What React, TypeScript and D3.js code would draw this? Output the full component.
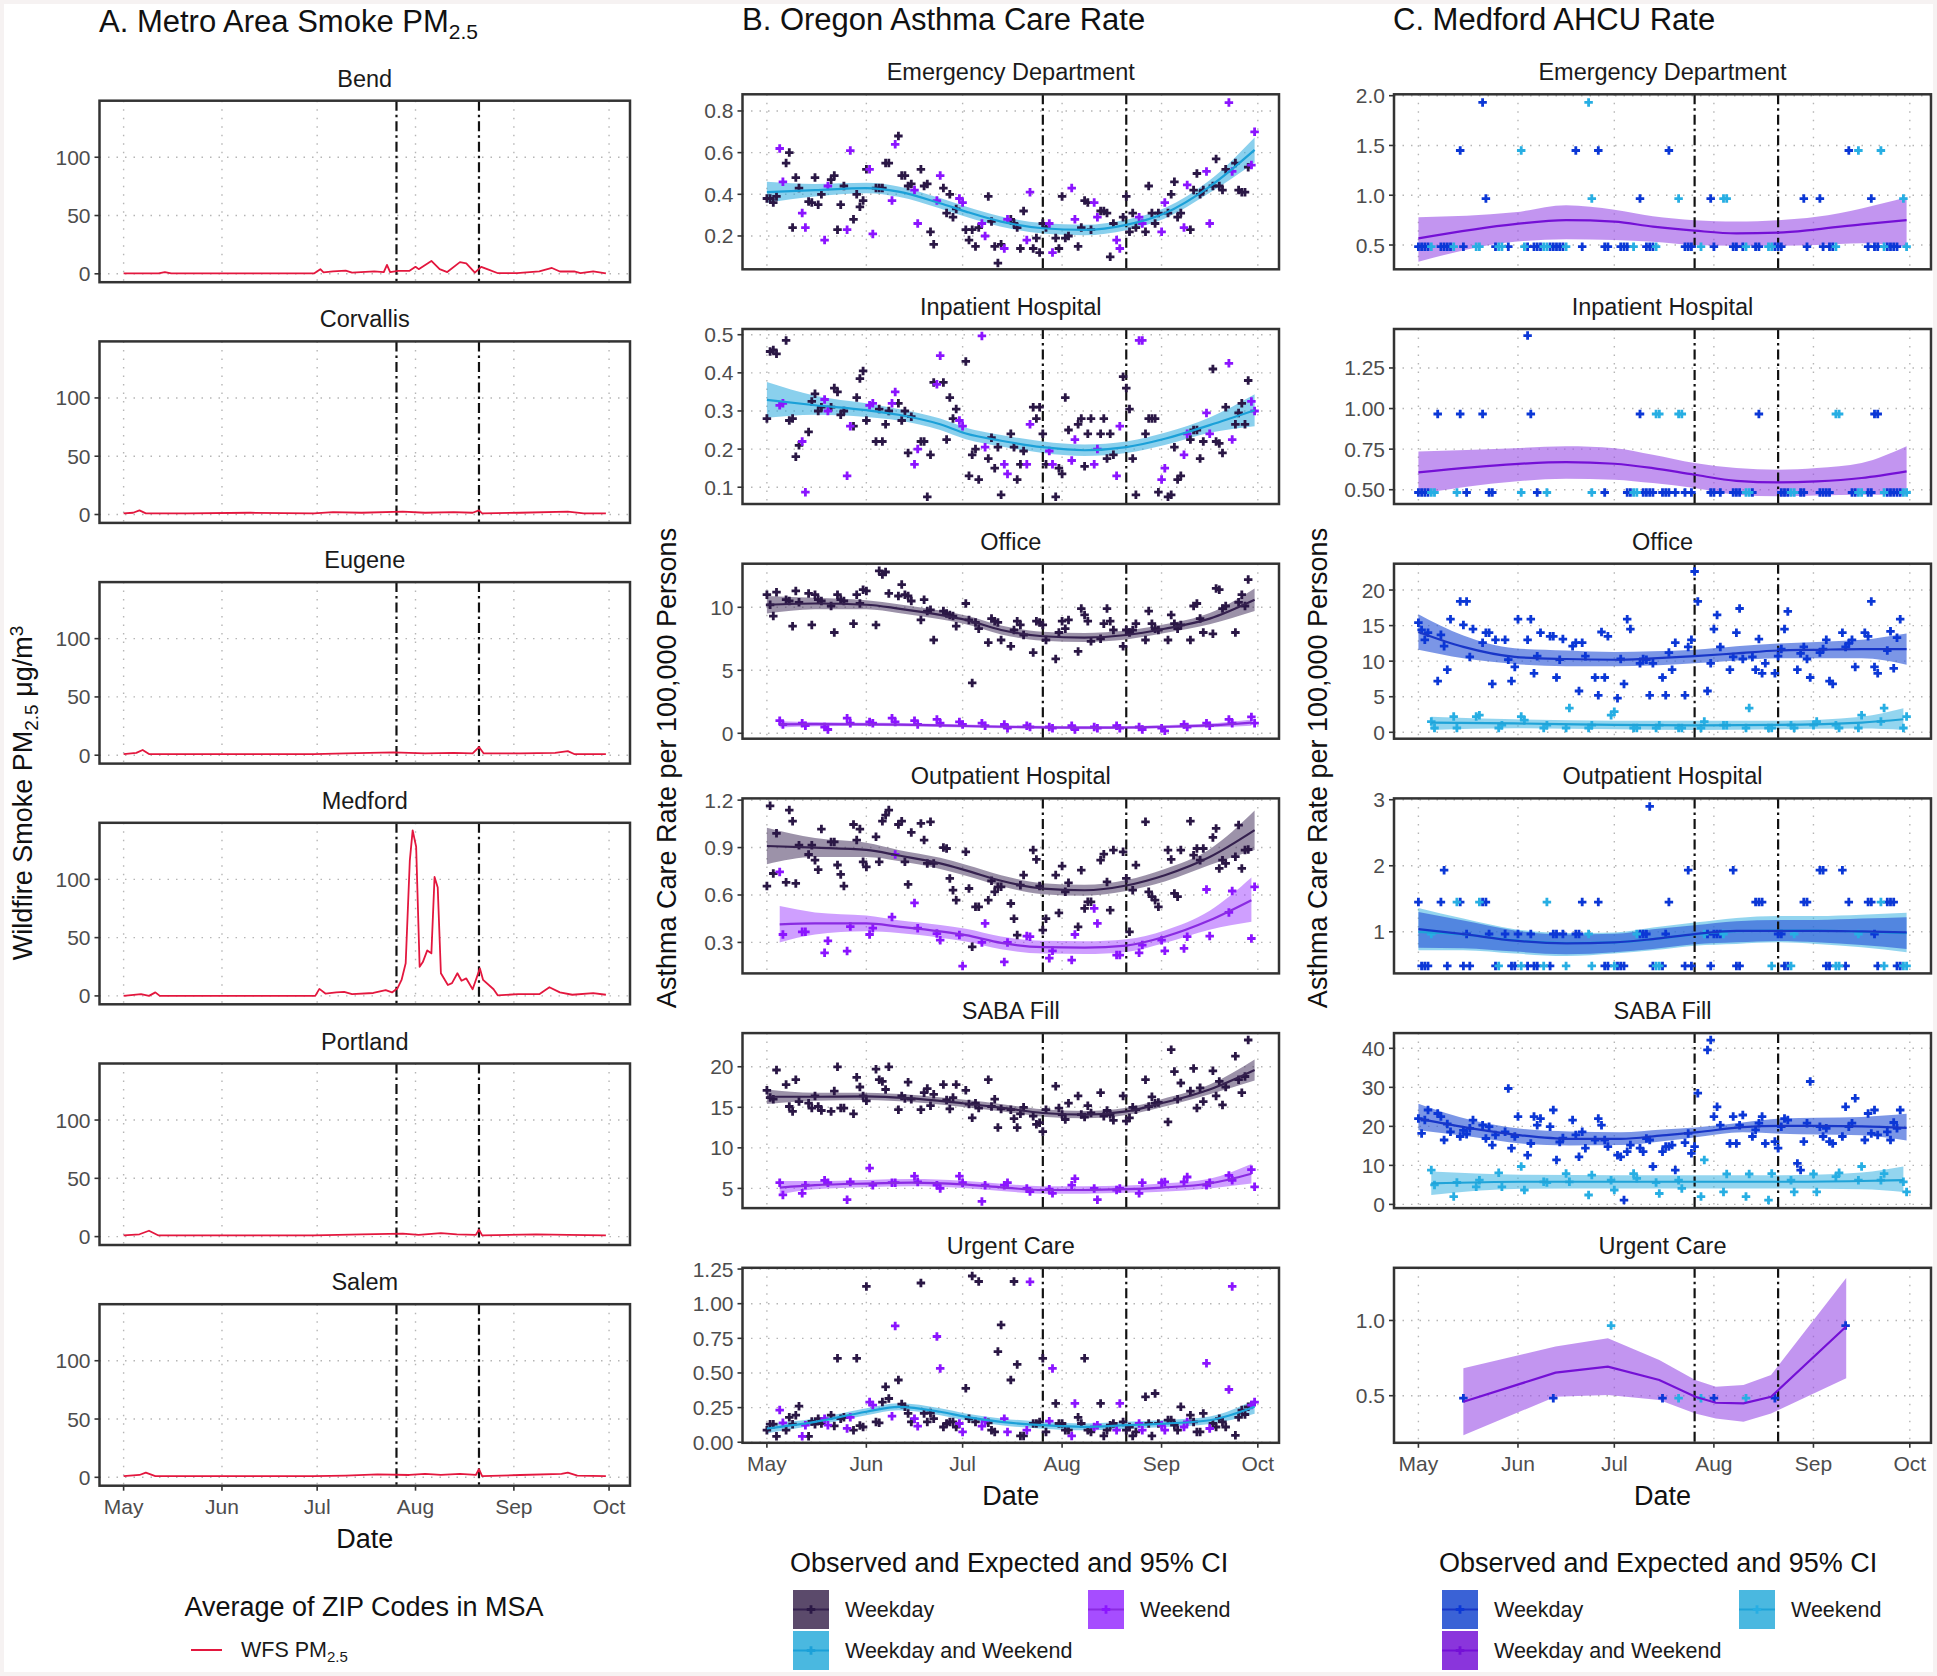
import React from "react";
import * as d3 from "d3";

// ---------------- DATA ----------------
const YEAR_START = Date.UTC(2018, 4, 1); // day 0 = May 1
const N_DAYS = 153;
const eventDays = [86, 112]; // Jul 26, Aug 21

// Panel A: wildfire smoke PM2.5, vertices [day, value]
const bendPM = [[0,0.3],[11,0.3],[13,1.5],[15,0.3],[60,0.3],[62,4],[63,1.2],[66,2],[70,2.8],[72,1],[79,2],[82,1.5],[83,7.7],[84,1.5],[86.5,2.5],[90,2.5],[92,6],[93,4],[97,11],[99.6,4],[102,1.5],[106,10],[108,9],[110.7,1],[112.7,6],[114.6,4],[118,0.5],[124,0.5],[131,2],[135,5],[137.5,2],[142,2],[144,0.5],[148,2],[152,0.3]];
const corvallisPM = [[0,1],[3,1.5],[5,3.5],[7,1],[20,1],[40,1.5],[60,1],[66,2],[75,1.5],[88,2.5],[95,1.5],[104,2],[110,1.5],[112,3.5],[113,1],[125,1.5],[140,2.5],[145,1],[152,1]];
const eugenePM = [[0,1],[4,2],[6,4.5],[8,1],[30,1],[60,1],[70,1.5],[85,2.5],[95,1.5],[104,2],[110,1.5],[112,7],[113.5,1.5],[125,1.5],[136,2],[140,3.5],[142,1],[152,1]];
const medfordPM = [[0,0],[5.5,1.5],[8,0],[10,3],[11.4,0],[60.4,0],[61.7,6],[63.6,2],[67,3],[69.5,3.5],[72,1.5],[78.7,2.5],[82.6,5],[84.6,3],[86.3,6.5],[87.6,13.7],[88.9,28],[90.2,116],[91.1,142],[92.2,128],[93.3,25],[94.3,29],[95.7,39],[97,36.5],[98,102],[99,93],[100,19.4],[102.2,9.4],[103.5,11],[105.2,19.4],[106.5,13],[108,15],[110,5.7],[112.3,23.6],[113.3,13.7],[116.6,5.7],[117.9,0.5],[124.4,1.5],[131,1.5],[134.2,7.4],[137.5,3],[141.4,1],[148,2.3],[152,1]];
const portlandPM = [[0,1],[5,2],[8,5],[11,1],[30,1],[60,1],[75,2],[88,2.5],[93,1.5],[100,3],[105,2],[111,1.5],[112,6],[113,1],[130,2],[140,1.5],[152,1]];
const salemPM = [[0,1],[5,2],[7,4],[10,1],[60,1],[70,1.5],[80,2.5],[90,2],[95,3],[100,2],[106,3],[111,2],[112,7],[113,1],[125,2],[138,3],[140,4],[143,1.5],[152,1]];
const cityNames = ["Bend", "Corvallis", "Eugene", "Medford", "Portland", "Salem"];
const citySeries = [bendPM, corvallisPM, eugenePM, medfordPM, portlandPM, salemPM];

// Panel B: Oregon daily rates (weekday values in order, weekend values in order)
const bEdWeekday = [0.38,0.38,0.36,0.39,0.55,0.60,0.24,0.48,0.43,0.365,0.36,0.48,0.35,0.40,0.47,0.49,0.23,0.35,0.44,0.28,0.40,0.34,0.37,0.52,0.43,0.43,0.43,0.55,0.55,0.68,0.49,0.49,0.44,0.45,0.52,0.44,0.45,0.22,0.16,0.43,0.31,0.40,0.29,0.33,0.23,0.18,0.23,0.15,0.24,0.39,0.27,0.15,0.07,0.16,0.28,0.26,0.24,0.14,0.32,0.14,0.19,0.12,0.26,0.24,0.19,0.14,0.39,0.19,0.20,0.15,0.24,0.37,0.36,0.23,0.32,0.32,0.31,0.10,0.26,0.29,0.39,0.22,0.31,0.24,0.22,0.44,0.31,0.26,0.31,0.31,0.40,0.46,0.29,0.31,0.23,0.42,0.50,0.40,0.42,0.44,0.57,0.44,0.42,0.52,0.55,0.42,0.41,0.41,0.53];
const bEdWeekend = [0.62,0.46,0.31,0.24,0.18,0.44,0.23,0.61,0.52,0.21,0.37,0.64,0.42,0.26,0.37,0.49,0.38,0.36,0.26,0.20,0.14,0.28,0.18,0.41,0.26,0.12,0.43,0.28,0.36,0.29,0.18,0.14,0.29,0.26,0.22,0.36,0.24,0.445,0.51,0.26,0.84,0.51,0.54,0.70];
const bInpWeekday = [0.28,0.456,0.46,0.45,0.485,0.275,0.28,0.18,0.21,0.245,0.325,0.345,0.30,0.31,0.31,0.36,0.35,0.29,0.30,0.26,0.335,0.385,0.405,0.275,0.22,0.305,0.22,0.265,0.30,0.32,0.275,0.30,0.19,0.285,0.22,0.22,0.075,0.185,0.375,0.375,0.225,0.335,0.28,0.305,0.43,0.13,0.185,0.20,0.12,0.175,0.23,0.15,0.205,0.08,0.24,0.205,0.12,0.16,0.195,0.31,0.28,0.31,0.24,0.16,0.075,0.15,0.135,0.335,0.25,0.265,0.28,0.155,0.24,0.28,0.24,0.28,0.175,0.24,0.185,0.39,0.36,0.305,0.175,0.08,0.24,0.28,0.28,0.28,0.087,0.075,0.08,0.205,0.12,0.13,0.225,0.25,0.25,0.175,0.22,0.41,0.22,0.215,0.19,0.31,0.265,0.295,0.32,0.265,0.38];
const bInpWeekend = [0.315,0.32,0.22,0.087,0.33,0.30,0.13,0.26,0.315,0.32,0.32,0.35,0.16,0.20,0.37,0.445,0.275,0.26,0.497,0.205,0.16,0.135,0.16,0.265,0.195,0.16,0.17,0.225,0.16,0.20,0.13,0.26,0.485,0.485,0.12,0.15,0.185,0.24,0.295,0.24,0.425,0.225,0.325,0.30];
const bOffWeekday = [11.0,10.2,9.3,11.2,10.6,10.5,8.5,11.3,10.4,11.1,8.6,11.0,10.6,10.5,10.1,8.0,11.0,10.6,10.5,8.7,11.0,10.3,11.4,11.3,8.6,12.9,12.6,12.8,11.1,10.9,11.8,11.0,10.9,10.5,9.0,10.6,9.7,9.8,7.4,9.7,9.5,9.4,9.3,8.5,10.3,9.0,4.0,8.8,8.3,7.2,9.1,8.9,8.8,7.4,6.9,8.2,8.9,8.6,7.8,6.4,8.9,8.8,8.6,7.4,5.9,8.0,8.9,8.3,9.0,6.5,9.9,9.4,8.9,7.3,7.5,8.7,9.9,8.9,8.2,6.9,8.2,8.0,8.2,8.7,7.4,9.7,8.7,8.3,8.2,7.4,9.4,8.7,8.3,8.6,7.4,10.1,10.3,9.1,8.0,7.9,11.5,11.4,9.9,10.1,8.0,10.4,11.0,10.1,12.2];
const bOffWeekend = [1.0,0.7,0.8,0.6,0.5,0.3,1.2,0.8,0.9,0.8,1.2,0.9,1.0,0.7,1.1,0.8,0.9,0.7,0.8,0.6,0.7,0.4,0.6,0.5,0.5,0.4,0.6,0.3,0.5,0.4,0.6,0.4,0.5,0.3,0.4,0.2,0.7,0.5,0.8,0.6,1.1,0.8,1.3,0.8];
const bOutWeekday = [0.656,1.164,0.736,0.99,0.68,1.137,1.067,0.673,0.915,0.856,0.915,0.82,0.76,1.017,0.936,0.936,0.79,0.73,0.656,1.046,0.947,1.017,0.81,0.778,0.968,0.81,1.067,1.105,1.137,1.046,1.067,0.81,0.667,0.996,1.053,0.947,0.80,1.063,0.80,0.90,0.894,0.705,0.63,0.567,0.873,0.641,0.272,0.525,0.525,0.567,0.69,0.62,0.652,0.652,0.546,0.45,0.346,0.662,0.726,0.884,0.825,0.656,0.378,0.45,0.726,0.487,0.783,0.62,0.677,0.399,0.757,0.515,0.557,0.557,0.82,0.858,0.683,0.504,0.884,0.873,0.705,0.367,0.63,0.789,1.063,0.62,0.589,0.567,0.525,0.884,0.825,0.61,0.589,0.884,1.067,0.852,0.894,0.82,0.894,0.964,1.021,0.768,0.82,0.80,0.842,1.042,0.768,0.884,0.888];
const bOutWeekend = [0.746,0.35,0.367,0.367,0.234,0.31,0.245,0.40,0.35,0.39,0.46,0.856,0.55,0.39,0.356,0.314,0.346,0.15,0.30,0.42,0.177,0.30,0.34,0.336,0.20,0.247,0.188,0.35,0.515,0.42,0.22,0.22,0.234,0.283,0.314,0.247,0.262,0.336,0.635,0.34,0.49,0.625,0.325,0.652];
const bSabaWeekday = [17.1,16.2,16.0,19.6,17.8,15.1,14.5,18.4,15.7,15.5,14.9,16.4,15.1,14.6,14.5,17.0,20.0,14.9,14.9,14.2,18.7,17.5,16.4,15.8,19.7,18.4,18.2,17.2,20.0,14.7,16.4,16.1,18.1,16.0,14.7,16.8,17.3,15.2,16.6,17.8,15.9,14.8,16.2,17.8,17.1,15.4,13.7,15.5,14.9,18.4,15.1,16.0,12.5,14.8,14.7,13.6,12.5,14.2,15.0,13.9,12.9,13.1,12.0,14.7,17.6,14.9,14.1,13.5,15.5,16.4,14.1,13.8,15.2,14.3,16.8,13.9,14.6,14.1,13.4,16.4,13.3,13.7,15.0,14.7,18.4,15.1,16.3,15.5,15.6,13.2,22.1,19.4,16.0,18.0,17.0,19.8,14.9,17.4,15.7,19.5,16.4,18.2,15.3,17.5,21.3,18.4,16.8,18.8,23.3];
const bSabaWeekend = [5.7,4.2,4.4,5.4,6.0,5.7,3.6,5.8,7.5,5.4,5.7,5.7,6.5,5.8,5.4,5.0,6.5,5.7,3.4,5.4,5.4,5.7,5.0,4.6,4.9,4.4,5.4,6.2,5.0,3.6,4.8,5.0,4.4,5.7,5.7,5.8,5.8,6.4,5.4,5.7,6.6,6.0,7.3,5.2];
const bUrgWeekday = [0.087,0.13,0.13,0.043,0.087,0.18,0.13,0.195,0.26,0.043,0.15,0.13,0.17,0.135,0.195,0.118,0.606,0.17,0.18,0.087,0.606,0.12,0.11,1.125,0.147,0.14,0.29,0.40,0.316,0.449,0.275,0.256,0.208,0.147,1.149,0.208,0.147,0.212,0.17,0.11,0.135,0.147,0.147,0.11,0.389,0.17,1.20,0.147,1.16,0.14,0.087,0.075,0.654,0.847,0.449,1.16,0.562,0.046,0.046,0.135,0.135,0.147,0.606,0.075,0.28,0.135,0.135,0.087,0.087,0.18,0.135,0.606,0.087,0.075,0.28,0.046,0.087,0.123,0.135,0.147,0.087,0.11,0.046,0.075,0.328,0.135,0.046,0.352,0.135,0.16,0.16,0.123,0.087,0.256,0.195,0.147,0.075,0.075,0.208,0.135,0.11,0.17,0.147,0.11,0.05,0.18,0.232,0.20,0.256];
const bUrgWeekend = [0.232,0.14,0.043,0.123,0.17,0.123,0.10,0.18,0.29,0.268,0.188,0.84,0.17,0.116,0.763,0.533,0.135,0.075,0.116,0.154,0.17,0.075,0.087,1.158,0.152,0.533,0.046,0.28,0.11,0.123,0.087,0.28,0.135,0.087,0.123,0.087,0.11,0.147,0.57,0.099,0.381,1.125,0.268,0.29];

// Panel B smoothers (expected and 95% CI)
const bEdAllFit = { days:[0,15,31,41,54,62,73,86,99,112,124,138,152], fit:[0.41,0.42,0.43,0.413,0.357,0.317,0.269,0.237,0.229,0.253,0.309,0.437,0.613], lo:[0.36,0.39,0.405,0.388,0.332,0.292,0.244,0.212,0.204,0.228,0.284,0.407,0.553], hi:[0.46,0.45,0.455,0.438,0.382,0.342,0.294,0.262,0.254,0.278,0.334,0.467,0.673] };
const bInpAllFit = { days:[0,15,31,41,54,62,73,86,99,112,124,138,152], fit:[0.329,0.315,0.302,0.29,0.265,0.241,0.222,0.205,0.197,0.205,0.227,0.263,0.302], lo:[0.282,0.29,0.284,0.275,0.25,0.226,0.207,0.19,0.182,0.19,0.211,0.243,0.26], hi:[0.376,0.34,0.32,0.305,0.28,0.256,0.237,0.22,0.212,0.22,0.243,0.283,0.344] };
const bOffWdFit = { days:[0,15,31,41,54,62,73,86,99,112,124,138,152], fit:[10.2,10.3,10.2,9.9,9.4,9.0,8.2,7.7,7.6,7.8,8.3,9.1,10.6], lo:[9.5,9.85,9.85,9.55,9.05,8.65,7.85,7.35,7.25,7.45,7.95,8.65,9.7], hi:[10.9,10.75,10.55,10.25,9.75,9.35,8.55,8.05,7.95,8.15,8.65,9.55,11.5] };
const bOffWeFit = { days:[4,15,31,41,54,62,73,86,99,112,124,138,151], fit:[0.70,0.72,0.70,0.68,0.62,0.58,0.52,0.47,0.45,0.46,0.52,0.62,0.85], lo:[0.45,0.55,0.57,0.55,0.50,0.46,0.40,0.35,0.33,0.34,0.40,0.47,0.6], hi:[0.95,0.89,0.83,0.81,0.74,0.70,0.64,0.59,0.57,0.58,0.64,0.77,1.1] };
const bOutWdFit = { days:[0,15,31,41,54,62,73,86,99,112,124,138,152], fit:[0.91,0.90,0.885,0.85,0.80,0.756,0.69,0.64,0.63,0.66,0.725,0.84,1.01], lo:[0.795,0.84,0.84,0.815,0.765,0.721,0.655,0.605,0.595,0.625,0.685,0.79,0.885], hi:[1.025,0.96,0.93,0.885,0.835,0.791,0.725,0.675,0.665,0.695,0.765,0.89,1.135] };
const bOutWeFit = { days:[4,15,31,41,54,62,73,86,99,112,124,138,151], fit:[0.414,0.42,0.42,0.40,0.37,0.346,0.297,0.27,0.267,0.28,0.336,0.44,0.567], lo:[0.30,0.35,0.37,0.36,0.33,0.306,0.257,0.23,0.227,0.24,0.296,0.38,0.43], hi:[0.53,0.49,0.47,0.44,0.41,0.386,0.337,0.31,0.307,0.32,0.376,0.50,0.71] };
const bSabaWdFit = { days:[0,15,31,45,61,74,86,99,112,123,138,152], fit:[16.3,16.3,16.35,16.1,15.5,14.9,14.3,14.1,14.5,15.5,17.2,19.6], lo:[15.4,15.8,15.9,15.65,15.05,14.45,13.85,13.65,14.05,15.0,16.6,18.3], hi:[17.2,16.8,16.8,16.55,15.95,15.35,14.75,14.55,14.95,16.0,17.8,20.9] };
const bSabaWeFit = { days:[4,15,31,45,61,74,86,99,112,123,138,151], fit:[5.1,5.4,5.6,5.7,5.5,5.1,4.8,4.8,4.9,5.1,5.6,6.8], lo:[4.3,4.9,5.15,5.25,5.05,4.65,4.35,4.35,4.45,4.6,5.0,5.6], hi:[5.9,5.9,6.05,6.15,5.95,5.55,5.25,5.25,5.35,5.6,6.2,8.0] };
const bUrgAllFit = { days:[0,15,31,41,54,62,73,86,99,112,124,138,152], fit:[0.099,0.147,0.22,0.256,0.22,0.183,0.147,0.123,0.111,0.123,0.135,0.159,0.256], lo:[0.065,0.122,0.195,0.231,0.195,0.158,0.122,0.098,0.086,0.098,0.11,0.132,0.206], hi:[0.133,0.172,0.245,0.281,0.245,0.208,0.172,0.148,0.136,0.148,0.16,0.186,0.306] };

// Panel C: Medford daily visit counts (rate = count x rate per visit)
const medfordRatePerVisit = 0.4831;
const cEdCounts = [1,1,1,1,1,0,0,1,1,1, 1,1,0,3,1,0,0,0,1,1, 4,2,0,0,1,1,1,0,1,0, 0,0,3,1,1,0,1,1,1,1, 1,1,1,1,1,1,1,0,0,3, 0,1,0,4,2,0,3,0,1,1, 0,0,0,1,1,1,0,1,0,2, 0,1,1,1,1,0,0,0,3,0, 0,2,0,1,1,1,0,0,1,0, 0,2,1,0,0,2,2,0,1,1, 0,1,1,0,0,1,1,0,0,1, 1,1,1,1,0,0,0,0,0,0, 2,1,0,0,0,2,1,0,1,1, 1,0,0,0,3,0,0,3,0,0, 1,2,1,1,3,1,1,1,1,1, 0,2,1];
const cInpCounts = [1,1,1,1,1,1,2,0,0,0, 0,0,1,2,0,1,0,0,0,0, 2,0,1,1,0,0,0,0,0,0, 0,0,1,0,3,2,0,1,0,0, 1,0,0,0,0,0,0,0,0,0, 0,0,0,0,1,0,0,0,1,0, 0,0,0,0,0,1,1,1,1,2, 1,1,1,1,2,2,1,1,1,0, 1,2,2,1,0,1,0,0,0,0, 0,1,1,0,1,0,0,0,1,1, 1,0,1,1,1,0,2,0,0,0, 0,0,0,1,1,1,1,1,0,1, 1,0,0,0,0,1,1,1,1,0, 2,2,0,0,0,1,1,1,1,0, 1,1,2,2,0,1,1,1,1,1, 1,1,1];
const cOutCounts = [3,1,1,1,2,0,0,3,4,1, 0,0,3,3,1,2,1,0,0,3, 3,3,2,0,1,1,0,2,0,1, 1,2,1,0,1,2,1,1,0,1, 3,1,2,2,0,2,1,0,0,2, 2,3,0,2,1,0,3,0,1,1, 0,1,1,1,1,0,0,0,2,2, 2,2,6,1,1,1,1,2,3,0, 0,0,0,1,4,1,0,0,0,2, 2,1,2,2,2,2,0,0,4,1, 1,0,0,0,0,3,3,3,0,0, 1,0,2,2,1,1,1,2,0,0, 3,3,0,0,0,4,4,1,1,0, 1,1,4,1,3,0,0,2,0,0, 3,3,2,1,3,1,3,3,3,1, 1,1,1];
const cUrgDays = [14, 42, 60, 76, 81, 88, 92, 102, 111, 133];
const cUrgCounts = [1, 1, 2, 1, 1, 1, 1, 1, 1, 2];
const cOffWeekday = [15.4,14.4,13.0,14.0,7.2,13.7,12.1,8.8,15.9,18.4,15.1,18.4,10.6,14.5,12.6,14.0,14.0,6.8,13.0,13.0,10.2,7.2,9.2,15.9,13.0,15.9,8.3,10.7,14.0,13.5,13.5,7.7,10.2,13.1,12.1,12.6,5.8,12.6,10.7,7.7,5.2,14.1,7.7,13.5,4.8,10.3,6.8,15.9,14.5,9.7,10.3,10.2,5.2,9.7,7.7,5.2,11.2,8.8,12.6,5.2,12.0,13.0,22.6,18.4,5.8,9.7,14.5,16.5,12.0,8.8,10.6,14.0,17.4,10.3,10.6,8.8,13.1,8.3,9.7,8.3,10.7,11.7,14.5,17.0,8.8,11.1,12.0,10.3,7.7,11.2,11.7,13.0,7.2,6.8,14.0,12.0,12.5,13.0,9.2,14.0,13.5,18.4,9.2,8.3,11.5,14.2,9.0,13.3,15.9];
const cOffWeekend = [1.5,0.6,2.2,0.6,2.2,2.4,0.6,1.0,2.2,1.7,0.6,1.0,0.6,3.4,0.6,1.0,2.4,2.9,0.6,0.6,0.6,1.0,0.6,0.6,0.6,1.5,1.0,1.0,0.6,3.4,0.6,0.6,1.0,0.6,1.0,1.5,1.0,0.6,0.6,2.4,1.5,3.4,0.6,2.2];
const cSabaWeekday = [22.0,18.2,21.6,24.2,23.3,22.5,16.5,20.6,18.6,17.4,19.0,18.0,19.5,21.6,20.3,16.9,19.9,15.2,17.8,18.6,29.7,14.4,17.4,22.5,12.6,15.6,22.5,20.3,22.0,19.9,24.2,11.4,16.0,17.0,21.6,17.8,12.2,18.6,14.4,16.5,22.0,20.3,16.5,14.8,12.6,12.2,1.1,13.5,15.2,14.4,13.5,16.9,16.5,9.7,13.5,14.8,14.8,15.2,8.8,15.8,18.2,13.1,14.8,28.5,39.6,42.1,22.5,25.0,20.3,15.6,22.5,15.6,20.3,22.9,17.4,19.1,20.8,22.5,15.6,16.1,14.4,19.9,22.0,21.6,10.5,8.8,16.1,20.8,31.5,19.9,17.4,19.5,16.1,15.6,17.4,25.0,19.9,20.8,27.2,16.5,23.3,18.2,24.2,17.8,18.6,16.5,21.0,19.5,24.2];
const cSabaWeekend = [8.8,5.0,2.0,5.6,4.5,6.2,8.1,4.5,9.7,3.7,5.8,5.6,7.9,5.8,2.4,7.5,6.2,3.7,7.9,6.7,5.6,2.8,6.2,4.1,2.0,11.4,3.2,7.8,2.0,7.8,1.1,7.9,6.2,3.2,7.8,3.2,7.1,8.1,6.2,9.7,6.2,7.9,5.8,3.2];

// Panel C smoothers
const cEdAllFit = { days:[0,30,46,61,73,86,99,112,124,138,152], fit:[0.567,0.71,0.75,0.735,0.684,0.644,0.617,0.624,0.658,0.708,0.75], lo:[0.333,0.533,0.557,0.55,0.533,0.50,0.493,0.493,0.50,0.517,0.483], hi:[0.778,0.828,0.90,0.855,0.79,0.75,0.735,0.75,0.784,0.868,0.98] };
const cInpAllFit = { days:[0,30,46,61,73,86,99,112,124,138,152], fit:[0.607,0.658,0.67,0.66,0.633,0.592,0.555,0.545,0.551,0.572,0.613], lo:[0.475,0.551,0.568,0.562,0.541,0.51,0.469,0.459,0.465,0.469,0.469], hi:[0.736,0.756,0.767,0.756,0.715,0.664,0.633,0.623,0.633,0.664,0.767] };
const cOffWdFit = { days:[0,14,30,46,61,73,86,99,112,124,138,152], fit:[14.1,12.0,10.6,10.3,10.2,10.4,10.7,11.1,11.5,11.6,11.7,11.7], lo:[11.6,10.4,9.6,9.3,9.3,9.4,9.7,10.1,10.4,10.4,10.4,9.5], hi:[16.6,13.6,11.8,11.5,11.3,11.4,11.6,12.1,12.5,12.7,13.0,13.9] };
const cOffWeFit = { days:[4,30,61,86,112,138,151], fit:[1.36,1.26,1.03,0.98,1.03,1.36,1.83], lo:[0.33,0.56,0.42,0.33,0.42,0.52,0.33], hi:[2.2,1.83,1.64,1.64,1.64,2.2,3.37] };
const cOutWdFit = { days:[0,14,30,46,61,73,86,99,112,124,138,152], fit:[1.04,0.965,0.866,0.826,0.84,0.89,0.965,1.015,1.015,1.015,1.005,0.99], lo:[0.76,0.75,0.70,0.66,0.69,0.74,0.81,0.84,0.86,0.84,0.80,0.74], hi:[1.30,1.17,1.02,0.96,0.97,1.04,1.10,1.16,1.18,1.18,1.20,1.22] };
const cOutWeFit = { days:[0,14,30,46,61,73,86,99,112,124,138,152], fit:[1.0,0.96,0.87,0.83,0.84,0.89,0.96,1.01,1.02,1.02,1.0,0.98], lo:[0.72,0.72,0.67,0.633,0.67,0.72,0.79,0.816,0.84,0.816,0.767,0.69], hi:[1.36,1.2,1.04,0.98,0.99,1.065,1.14,1.21,1.24,1.24,1.26,1.29] };
const cSabaWdFit = { days:[0,17,32,47,63,76,87,101,113,124,138,152], fit:[21.97,19.4,17.7,16.8,16.8,17.7,18.5,19.8,20.1,20.1,20.0,19.6], lo:[19.0,17.3,15.6,15.1,15.2,16.2,17.3,18.5,18.1,17.9,17.7,16.4], hi:[25.8,21.5,19.4,18.7,18.5,19.2,19.8,21.0,22.0,22.2,22.4,23.2] };
const cSabaWeFit = { days:[4,32,63,87,113,138,151], fit:[5.4,5.8,5.8,5.8,5.8,6.0,6.2], lo:[2.4,4.0,4.1,4.1,4.1,3.9,3.2], hi:[8.4,7.6,7.5,7.5,7.5,8.2,9.7] };
const cUrgAllFit = { days:[14,42.7,59,75,86.2,92.6,101.2,109.8,133.2], fit:[0.46,0.653,0.693,0.604,0.493,0.453,0.449,0.493,0.96], lo:[0.238,0.493,0.504,0.471,0.382,0.349,0.327,0.382,0.616], hi:[0.682,0.827,0.882,0.738,0.604,0.56,0.571,0.638,1.282] };

// axis ticks & titles
const facetTitlesBC = ["Emergency Department", "Inpatient Hospital", "Office", "Outpatient Hospital", "SABA Fill", "Urgent Care"];
const aTicks = [0, 50, 100];
const bTicks = [[0.2,0.4,0.6,0.8],[0.1,0.2,0.3,0.4,0.5],[0,5,10],[0.3,0.6,0.9,1.2],[5,10,15,20],[0,0.25,0.5,0.75,1,1.25]];
const cTicks = [[0.5,1,1.5,2],[0.5,0.75,1,1.25],[0,5,10,15,20],[1,2,3],[0,10,20,30,40],[0.5,1]];
const legendLabels = ["Weekday", "Weekend", "Weekday and Weekend"];

// ---------------- STYLE / LAYOUT ----------------
const W = 1937, H = 1676;
const FONT = "'Liberation Sans', Arial, Helvetica, sans-serif";
const DAY_MS = 86400000;
const toDate = (d: number) => new Date(YEAR_START + d * DAY_MS);
const isWeekend = (d: number) => { const w = toDate(d).getUTCDay(); return w === 0 || w === 6; };
const X_DOMAIN = [toDate(-7.6), toDate(159.6)];
const MONTHS = d3.utcMonth.range(toDate(0), toDate(154));
const monthFmt = d3.utcFormat("%b");
const CROSS = d3.symbol().type(d3.symbolCross).size(40)() as string;

const B_WD = { pt: "#2a1745", line: "#35214f", fill: "#4a3862", op: 0.55, key: "#5b4a6b" };
const B_WE = { pt: "#8b14ff", line: "#8a2be2", fill: "#a040ff", op: 0.5, key: "#a64dff" };
const B_ALL = { pt: "#1ba0d8", line: "#1ba0d8", fill: "#29a9de", op: 0.55, key: "#4ab8e0" };
const C_WD = { pt: "#0b37d6", line: "#1836c8", fill: "#2a55d6", op: 0.62, key: "#3a62d6" };
const C_WE = { pt: "#27aee3", line: "#1fa3d8", fill: "#3bb2e2", op: 0.55, key: "#4ab8e0" };
const C_ALL = { pt: "#7410d6", line: "#7410d6", fill: "#9a4fe6", op: 0.6, key: "#8a35dc" };

type Pt = { d: number; v: number };
type Smooth = { days: number[]; fit: number[]; lo: number[]; hi: number[] };

function splitValues(weekday: number[], weekend: number[]) {
  const wd: Pt[] = [], we: Pt[] = [];
  let i = 0, j = 0;
  for (let d = 0; d < N_DAYS; d++) {
    if (isWeekend(d)) { const v = weekend[j++]; if (v != null) we.push({ d, v }); }
    else { const v = weekday[i++]; if (v != null) wd.push({ d, v }); }
  }
  return { wd, we };
}
function splitCounts(counts: number[], days?: number[]) {
  const wd: Pt[] = [], we: Pt[] = [];
  counts.forEach((c, k) => {
    const d = days ? days[k] : k;
    if (!c) return;
    const p = { d, v: c * medfordRatePerVisit };
    (isWeekend(d) ? we : wd).push(p);
  });
  return { wd, we };
}

function ribbon(s: Smooth, c: any, linear = false) { return { kind: "ribbon", s, c, linear }; }
function line(s: Smooth, c: any, linear = false) { return { kind: "line", s, c, linear }; }
function pts(p: Pt[], color: string) { return { kind: "points", p, color }; }

const bEd = splitValues(bEdWeekday, bEdWeekend);
const bInp = splitValues(bInpWeekday, bInpWeekend);
const bOff = splitValues(bOffWeekday, bOffWeekend);
const bOut = splitValues(bOutWeekday, bOutWeekend);
const bSaba = splitValues(bSabaWeekday, bSabaWeekend);
const bUrg = splitValues(bUrgWeekday, bUrgWeekend);
const cEd = splitCounts(cEdCounts);
const cInp = splitCounts(cInpCounts);
const cOut = splitCounts(cOutCounts);
const cUrg = splitCounts(cUrgCounts, cUrgDays);
const cOff = splitValues(cOffWeekday, cOffWeekend);
const cSaba = splitValues(cSabaWeekday, cSabaWeekend);

const bPanels = [
  { dom: [0.04, 0.88], fmt: ".1f", layers: [ribbon(bEdAllFit, B_ALL), pts(bEd.wd, B_WD.pt), pts(bEd.we, B_WE.pt), line(bEdAllFit, B_ALL)] },
  { dom: [0.056, 0.515], fmt: ".1f", layers: [ribbon(bInpAllFit, B_ALL), pts(bInp.wd, B_WD.pt), pts(bInp.we, B_WE.pt), line(bInpAllFit, B_ALL)] },
  { dom: [-0.43, 13.46], fmt: "d", layers: [ribbon(bOffWdFit, B_WD), ribbon(bOffWeFit, B_WE), pts(bOff.wd, B_WD.pt), pts(bOff.we, B_WE.pt), line(bOffWdFit, B_WD), line(bOffWeFit, B_WE)] },
  { dom: [0.104, 1.211], fmt: ".1f", layers: [ribbon(bOutWdFit, B_WD), ribbon(bOutWeFit, B_WE), pts(bOut.wd, B_WD.pt), pts(bOut.we, B_WE.pt), line(bOutWdFit, B_WD), line(bOutWeFit, B_WE)] },
  { dom: [2.57, 24.15], fmt: "d", layers: [ribbon(bSabaWdFit, B_WD), ribbon(bSabaWeFit, B_WE), pts(bSaba.wd, B_WD.pt), pts(bSaba.we, B_WE.pt), line(bSabaWdFit, B_WD), line(bSabaWeFit, B_WE)] },
  { dom: [-0.004, 1.259], fmt: ".2f", layers: [ribbon(bUrgAllFit, B_ALL), pts(bUrg.wd, B_WD.pt), pts(bUrg.we, B_WE.pt), line(bUrgAllFit, B_ALL)] },
];
const cPanels = [
  { dom: [0.256, 2.014], fmt: ".1f", layers: [ribbon(cEdAllFit, C_ALL), pts(cEd.wd, C_WD.pt), pts(cEd.we, C_WE.pt), line(cEdAllFit, C_ALL)] },
  { dom: [0.412, 1.49], fmt: ".2f", layers: [ribbon(cInpAllFit, C_ALL), pts(cInp.wd, C_WD.pt), pts(cInp.we, C_WE.pt), line(cInpAllFit, C_ALL)] },
  { dom: [-0.9, 23.7], fmt: "d", layers: [ribbon(cOffWdFit, C_WD), ribbon(cOffWeFit, C_WE), pts(cOff.wd, C_WD.pt), pts(cOff.we, C_WE.pt), line(cOffWdFit, C_WD), line(cOffWeFit, C_WE)] },
  { dom: [0.37, 3.02], fmt: "d", layers: [ribbon(cOutWeFit, C_WE), ribbon(cOutWdFit, C_WD), pts(cOut.wd, C_WD.pt), pts(cOut.we, C_WE.pt), line(cOutWeFit, C_WE), line(cOutWdFit, C_WD)] },
  { dom: [-0.95, 43.9], fmt: "d", layers: [ribbon(cSabaWdFit, C_WD), ribbon(cSabaWeFit, C_WE), pts(cSaba.wd, C_WD.pt), pts(cSaba.we, C_WE.pt), line(cSabaWdFit, C_WD), line(cSabaWeFit, C_WE)] },
  { dom: [0.187, 1.35], fmt: ".1f", layers: [ribbon(cUrgAllFit, C_ALL, true), pts(cUrg.wd, C_WD.pt), pts(cUrg.we, C_WE.pt), line(cUrgAllFit, C_ALL, true)] },
];

const KIND_ORDER: any = { ribbon: 0, points: 1, line: 2, series: 2 };

function Facet(props: any) {
  const { id, x0, x1, top, h, dom, ticks, fmt, title, showX, layers } = props;
  const x = d3.scaleUtc().domain(X_DOMAIN).range([x0, x1]);
  const y = d3.scaleLinear().domain(dom).range([top + h, top]);
  const f = d3.format(fmt);
  const sorted = [...layers].sort((a: any, b: any) => KIND_ORDER[a.kind] - KIND_ORDER[b.kind]);
  const bottom = top + h;
  return (
    <g>
      <defs>
        <clipPath id={id}><rect x={x0} y={top} width={x1 - x0} height={h} /></clipPath>
      </defs>
      <rect x={x0} y={top} width={x1 - x0} height={h} fill="#fff" />
      <g clipPath={`url(#${id})`}>
        {MONTHS.map((m, i) => (
          <line key={"gx" + i} x1={x(m)} x2={x(m)} y1={top} y2={bottom} stroke="#b5b5b5" strokeWidth={1.4} strokeDasharray="1.5 7" />
        ))}
        {ticks.map((t: number, i: number) => (
          <line key={"gy" + i} x1={x0} x2={x1} y1={y(t)} y2={y(t)} stroke="#b5b5b5" strokeWidth={1.4} strokeDasharray="1.5 7" />
        ))}
        {sorted.filter((l: any) => l.kind === "ribbon").map((l: any, i: number) => {
          const idx = l.s.days.map((_: any, k: number) => k);
          const area = d3.area<number>().x((k) => x(toDate(l.s.days[k]))).y0((k) => y(l.s.lo[k])).y1((k) => y(l.s.hi[k]))
            .curve(l.linear ? d3.curveLinear : d3.curveMonotoneX);
          return <path key={"r" + i} d={area(idx) as string} fill={l.c.fill} fillOpacity={l.c.op} />;
        })}
        {eventDays.map((d, i) => (
          <line key={"v" + i} x1={x(toDate(d))} x2={x(toDate(d))} y1={top} y2={bottom} stroke="#111" strokeWidth={2.2} strokeDasharray="10 4 2.5 4" />
        ))}
        {sorted.filter((l: any) => l.kind === "points").map((l: any, i: number) => (
          <g key={"p" + i} fill={l.color}>
            {l.p.map((p: Pt, k: number) => (
              <path key={k} d={CROSS} transform={`translate(${x(toDate(p.d)).toFixed(1)},${y(p.v).toFixed(1)})`} />
            ))}
          </g>
        ))}
        {sorted.filter((l: any) => l.kind === "line").map((l: any, i: number) => {
          const idx = l.s.days.map((_: any, k: number) => k);
          const ln = d3.line<number>().x((k) => x(toDate(l.s.days[k]))).y((k) => y(l.s.fit[k]))
            .curve(l.linear ? d3.curveLinear : d3.curveMonotoneX);
          return <path key={"l" + i} d={ln(idx) as string} fill="none" stroke={l.c.line} strokeWidth={2.2} />;
        })}
        {sorted.filter((l: any) => l.kind === "series").map((l: any, i: number) => {
          const ln = d3.line<number[]>().x((p) => x(toDate(p[0]))).y((p) => y(p[1]));
          return <path key={"s" + i} d={ln(l.knots) as string} fill="none" stroke={l.stroke} strokeWidth={1.8} strokeLinejoin="round" />;
        })}
      </g>
      <rect x={x0} y={top} width={x1 - x0} height={h} fill="none" stroke="#333" strokeWidth={2.5} />
      {ticks.map((t: number, i: number) => (
        <g key={"ty" + i}>
          <line x1={x0 - 5} x2={x0} y1={y(t)} y2={y(t)} stroke="#333" strokeWidth={1.6} />
          <text x={x0 - 9} y={y(t)} textAnchor="end" dominantBaseline="central" fontSize={21} fill="#4d4d4d">{f(t)}</text>
        </g>
      ))}
      <text x={(x0 + x1) / 2} y={top - 14} textAnchor="middle" fontSize={23.5} fill="#1a1a1a">{title}</text>
      {showX && MONTHS.map((m, i) => (
        <g key={"tx" + i}>
          <line x1={x(m)} x2={x(m)} y1={bottom} y2={bottom + 5} stroke="#333" strokeWidth={1.6} />
          <text x={x(m)} y={bottom + 28} textAnchor="middle" fontSize={21} fill="#4d4d4d">{monthFmt(m)}</text>
        </g>
      ))}
    </g>
  );
}

function LegendKey({ x, y, c, label }: any) {
  const w = 36, h = 39;
  return (
    <g>
      <rect x={x} y={y} width={w} height={h} fill={c.key} />
      <line x1={x} x2={x + w} y1={y + h / 2} y2={y + h / 2} stroke={c.line} strokeWidth={2.2} />
      <path d={CROSS} transform={`translate(${x + w / 2},${y + h / 2})`} fill={c.pt} />
      <text x={x + 52} y={y + h / 2} dominantBaseline="central" fontSize={21.5} fill="#1a1a1a">{label}</text>
    </g>
  );
}

export default function App() {
  const aTops = d3.range(6).map((i) => 100.7 + i * 240.7);
  const bcTops = d3.range(6).map((i) => 94.3 + i * 234.7);
  const aH = 181.5, bcH = 175;
  const A = { x0: 99.5, x1: 630 }, B = { x0: 742.5, x1: 1279 }, C = { x0: 1394, x1: 1931 };
  return (
    <svg width={W} height={H} viewBox={`0 0 ${W} ${H}`} style={{ position: "absolute", left: 0, top: 0, background: "#fff" }} fontFamily={FONT}>
      <rect x={0} y={0} width={W} height={H} fill="#fff" stroke="#f6f2f2" strokeWidth={8} />
      {/* Titles */}
      <text x={99} y={32} fontSize={31} fill="#111">A. Metro Area Smoke PM<tspan dy={7} fontSize={21}>2.5</tspan></text>
      <text x={742} y={30} fontSize={31} fill="#111">B. Oregon Asthma Care Rate</text>
      <text x={1393} y={30} fontSize={31} fill="#111">C. Medford AHCU Rate</text>

      {/* Panel A */}
      {citySeries.map((s, i) => (
        <Facet key={"a" + i} id={"ca" + i} x0={A.x0} x1={A.x1} top={aTops[i]} h={aH} dom={[-7.2, 148.5]} ticks={aTicks} fmt="d"
          title={cityNames[i]} showX={i === 5} layers={[{ kind: "series", knots: s, stroke: "#e3173e" }]} />
      ))}
      {bPanels.map((p, i) => (
        <Facet key={"b" + i} id={"cb" + i} x0={B.x0} x1={B.x1} top={bcTops[i]} h={bcH} dom={p.dom} ticks={bTicks[i]} fmt={p.fmt}
          title={facetTitlesBC[i]} showX={i === 5} layers={p.layers} />
      ))}
      {cPanels.map((p, i) => (
        <Facet key={"c" + i} id={"cc" + i} x0={C.x0} x1={C.x1} top={bcTops[i]} h={bcH} dom={p.dom} ticks={cTicks[i]} fmt={p.fmt}
          title={facetTitlesBC[i]} showX={i === 5} layers={p.layers} />
      ))}

      {/* axis titles */}
      <text x={(A.x0 + A.x1) / 2} y={aTops[5] + aH + 62} textAnchor="middle" fontSize={27} fill="#111">Date</text>
      <text x={(B.x0 + B.x1) / 2} y={bcTops[5] + bcH + 62} textAnchor="middle" fontSize={27} fill="#111">Date</text>
      <text x={(C.x0 + C.x1) / 2} y={bcTops[5] + bcH + 62} textAnchor="middle" fontSize={27} fill="#111">Date</text>
      <text transform="translate(32,793) rotate(-90)" textAnchor="middle" fontSize={27} fill="#111">
        Wildfire Smoke PM<tspan dy={6} fontSize={19}>2.5</tspan><tspan dy={-6}> μg/m</tspan><tspan dy={-9} fontSize={19}>3</tspan>
      </text>
      <text transform="translate(676,768) rotate(-90)" textAnchor="middle" fontSize={27} fill="#111">Asthma Care Rate per 100,000 Persons</text>
      <text transform="translate(1327,768) rotate(-90)" textAnchor="middle" fontSize={27} fill="#111">Asthma Care Rate per 100,000 Persons</text>

      {/* Legend A */}
      <text x={364} y={1616} textAnchor="middle" fontSize={27} fill="#111">Average of ZIP Codes in MSA</text>
      <line x1={191} x2={222} y1={1650} y2={1650} stroke="#e3173e" strokeWidth={2} />
      <text x={241} y={1650} dominantBaseline="central" fontSize={21.5} fill="#1a1a1a">WFS PM<tspan dy={6} fontSize={15}>2.5</tspan></text>

      {/* Legend B */}
      <text x={790} y={1572} fontSize={27} fill="#111">Observed and Expected and 95% CI</text>
      <LegendKey x={793} y={1590} c={B_WD} label={legendLabels[0]} />
      <LegendKey x={1088} y={1590} c={B_WE} label={legendLabels[1]} />
      <LegendKey x={793} y={1631} c={B_ALL} label={legendLabels[2]} />

      {/* Legend C */}
      <text x={1439} y={1572} fontSize={27} fill="#111">Observed and Expected and 95% CI</text>
      <LegendKey x={1442} y={1590} c={C_WD} label={legendLabels[0]} />
      <LegendKey x={1739} y={1590} c={C_WE} label={legendLabels[1]} />
      <LegendKey x={1442} y={1631} c={C_ALL} label={legendLabels[2]} />
    </svg>
  );
}
